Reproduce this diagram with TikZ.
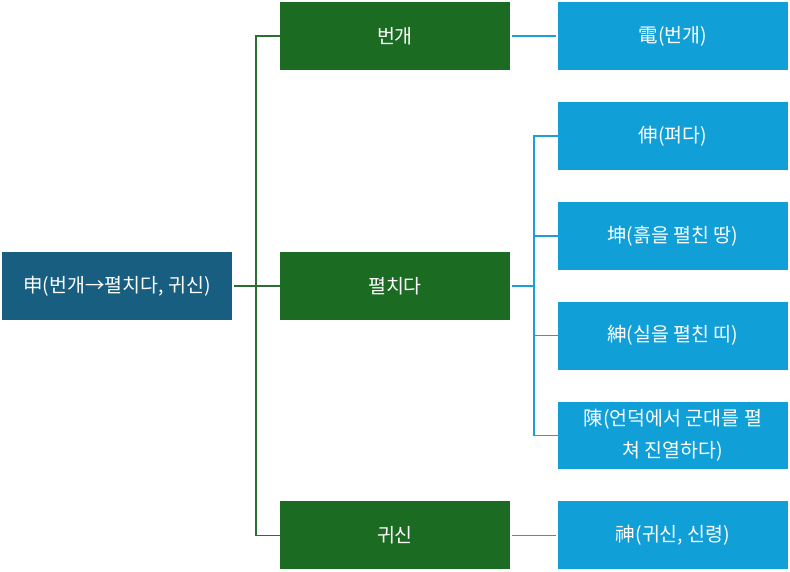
\documentclass[tikz,border=0pt]{standalone}
\usepackage{fontspec}
\newfontfamily\krfont{Noto Sans CJK KR}
\usepackage{tikz}
\usetikzlibrary{positioning, calc}
\tikzset{
    rootbox/.style={rectangle, fill=RootBlue, text=white, minimum width=230pt, minimum height=68pt, inner sep=2pt, align=center, font=\krfont\fontsize{19.5}{24}\selectfont},
    midbox/.style={rectangle, fill=MidGreen, text=white, minimum width=230pt, minimum height=68pt, inner sep=2pt, align=center, font=\krfont\fontsize{19.5}{24}\selectfont},
    leafbox/.style={rectangle, fill=LeafBlue, text=white, minimum width=230pt, minimum height=68pt, inner sep=2pt, align=center, font=\krfont\fontsize{19.5}{32}\selectfont},
    gline/.style={draw=LineGreen, line width=1.6pt},
    bline/.style={draw=LineBlue, line width=1.6pt},
}
\definecolor{RootBlue}{HTML}{175E80}
\definecolor{MidGreen}{HTML}{1B6B23}
\definecolor{LeafBlue}{HTML}{119FD8}
\definecolor{LineGreen}{HTML}{2A6F2F}
\definecolor{LineBlue}{HTML}{1A9FD8}

\begin{document}
\begin{tikzpicture}[node distance=31.6pt and 48pt]

% Right column
\node[leafbox] (dian) {電(번개)};
\node[leafbox, below=of dian] (shen) {伸(펴다)};
\node[leafbox, below=of shen] (kun) {坤(흙을 펼친 땅)};
\node[leafbox, below=of kun] (shenb) {紳(실을 펼친 띠)};
\node[leafbox, below=of shenb] (chen) {陳(언덕에서 군대를 펼\\쳐 진열하다)};
\node[leafbox, below=of chen] (shenc) {神(귀신, 신령)};

% Middle column
\node[midbox, left=of dian] (lightning) {번개};
\node[midbox, left=of shenc] (spirit) {귀신};
\node[midbox] (spread) at ($(lightning)!0.5!(spirit)$) {펼치다};

% Root
\node[rootbox, left=of spread] (root) {申(번개→펼치다, 귀신)};

\useasboundingbox ($(root.west |- dian.north)+(-2pt,2pt)$) rectangle ($(dian.east |- shenc.south)+(2pt,-2pt)$);

% Lines
\coordinate (gtrunk) at ($(root.east)!0.5!(spread.west)$);
\draw[gline, shorten <=2pt] (root) -- (spread);
\draw[gline] (gtrunk) |- (lightning);
\draw[gline] (gtrunk) |- (spirit);

\coordinate (btrunk) at ($(spread.east)!0.5!(spread.east -| shenb.west)$);
\draw[bline, shorten <=2pt, shorten >=2pt] (lightning) -- (dian);
\draw[bline, shorten <=2pt] (spread.east) -- (btrunk);
\draw[bline] (btrunk) |- (shen);
\draw[bline] (btrunk) |- (kun);
\draw[bline] (btrunk) |- (shenb);
\draw[bline] (btrunk) |- (chen);
\draw[bline, shorten <=2pt, shorten >=2pt] (spirit) -- (shenc);

\end{tikzpicture}
\end{document}
